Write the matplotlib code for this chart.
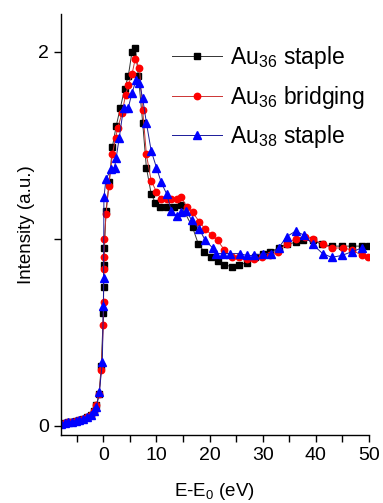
import matplotlib
matplotlib.use("Agg")
import matplotlib.pyplot as plt
from matplotlib.ticker import MultipleLocator, FixedLocator

plt.rcParams['font.family'] = ['Liberation Sans', 'DejaVu Sans']
plt.rcParams['mathtext.default'] = 'regular'

pre_x = [-8.0, -7.3, -6.6, -5.9, -5.2, -4.5, -3.8, -3.1, -2.4, -1.8, -1.3, -0.8, -0.4]
pre_y = [0.01, 0.015, 0.02, 0.02, 0.025, 0.03, 0.035, 0.045, 0.06, 0.08, 0.11, 0.17, 0.32]

au36_staple_x = pre_x + [0.0, 0.05, 0.1, 0.2, 0.5, 1.1, 1.7, 2.4, 3.2, 4.0, 4.7, 5.4, 6.0, 6.6, 7.4,
                          8.1, 9.0, 9.8, 10.7, 12.0, 13.3, 14.6, 16.8, 17.9, 19.0, 20.3, 21.5, 22.8,
                          24.2, 25.5, 27.0, 28.5, 30.0, 31.4, 33.0, 34.6, 36.2, 37.6, 39.4, 41.2,
                          43.0, 45.0, 46.8, 48.7, 50.0]
au36_staple_y = pre_y + [0.60, 0.74, 0.86, 0.95, 1.15, 1.30, 1.49, 1.60, 1.70, 1.80, 1.87, 2.00, 2.02,
                          1.87, 1.62, 1.38, 1.24, 1.19, 1.17, 1.17, 1.17, 1.18, 1.06, 0.97, 0.93, 0.90,
                          0.88, 0.86, 0.85, 0.86, 0.87, 0.90, 0.92, 0.93, 0.95, 0.97, 0.98, 0.99,
                          0.99, 0.97, 0.96, 0.96, 0.96, 0.96, 0.96]

au36_bridging_x = pre_x + [0.0, 0.03, 0.06, 0.1, 0.2, 0.5, 1.0, 1.7, 2.3, 2.7, 3.5, 4.2, 4.7, 5.4, 6.0,
                            6.8, 7.4, 8.1, 9.0, 10.0, 10.9, 11.9, 12.8, 13.8, 14.7, 15.7, 16.8,
                            18.1, 19.2, 20.4, 21.5, 22.8, 24.2, 25.5, 27.0, 28.4, 29.8, 31.3, 32.8,
                            34.5, 36.2, 37.9, 39.4, 41.3, 43.0, 45.1, 46.8, 48.7, 49.8]
au36_bridging_y = pre_y[:-1] + [0.30] + [0.54, 0.66, 0.84, 0.90, 1.00, 1.13, 1.28, 1.45, 1.54, 1.59,
                                          1.67, 1.77, 1.82, 1.88, 1.96, 1.91, 1.69, 1.45, 1.31, 1.25,
                                          1.21, 1.21, 1.21, 1.21, 1.22, 1.17, 1.14, 1.09, 1.05, 1.02,
                                          0.99, 0.94, 0.90, 0.90, 0.89, 0.89, 0.90, 0.91, 0.93, 0.97,
                                          1.00, 1.01, 1.00, 0.97, 0.95, 0.95, 0.94, 0.91, 0.90]

au38_staple_x = [-8.0, -7.3, -6.6, -5.9, -5.2, -4.5, -3.8, -3.1, -2.4, -1.8, -1.3, -0.75, -0.2,
                 0.0, 0.05, 0.1, 0.5, 1.5, 2.1, 2.4, 3.0, 3.8, 4.7, 5.4, 6.2, 6.8, 7.4, 8.1,
                 9.0, 10.0, 10.9, 11.9, 12.8, 13.8, 14.7, 15.6, 16.6, 18.1, 19.2, 20.6, 21.3,
                 22.6, 23.8, 25.7, 27.0, 28.3, 30.0, 31.5, 33.0, 34.5, 36.2, 37.7, 39.4, 41.3,
                 43.0, 44.9, 46.8, 48.7]
au38_staple_y = [0.01, 0.015, 0.02, 0.02, 0.025, 0.03, 0.035, 0.045, 0.06, 0.08, 0.10, 0.18, 0.34,
                 0.64, 0.79, 1.22, 1.32, 1.37, 1.38, 1.43, 1.54, 1.70, 1.70, 1.78, 1.85, 1.83,
                 1.75, 1.62, 1.47, 1.38, 1.30, 1.24, 1.15, 1.12, 1.14, 1.15, 1.10, 1.05, 0.99,
                 0.95, 0.92, 0.92, 0.92, 0.92, 0.91, 0.91, 0.92, 0.92, 0.95, 1.01, 1.04, 1.02,
                 0.97, 0.92, 0.90, 0.91, 0.93, 0.95]

labels = [r'Au$_{36}$ staple', r'Au$_{36}$ bridging', r'Au$_{38}$ staple']

fig = plt.figure(figsize=(3.83, 5.03), dpi=100)
ax = fig.add_axes([0.159, 0.135, 0.804, 0.837])

ms = 4.3
ax.plot(au36_staple_x, au36_staple_y, color='#333333', lw=0.7, marker='s', ms=ms,
        mfc='black', mec='black', label=labels[0])
ax.plot(au36_bridging_x, au36_bridging_y, color='#cc3333', lw=0.7, marker='o', ms=ms + 0.3,
        mfc='red', mec='red', label=labels[1])
ax.plot(au38_staple_x, au38_staple_y, color='#1a1a99', lw=0.7, marker='^', ms=ms + 0.8,
        mfc='blue', mec='blue', label=labels[2])

ax.set_xlim(-8, 50)
ax.set_ylim(-0.05, 2.2)
ax.xaxis.set_major_locator(MultipleLocator(10))
ax.xaxis.set_minor_locator(MultipleLocator(5))
ax.yaxis.set_major_locator(FixedLocator([0, 2]))
ax.yaxis.set_minor_locator(FixedLocator([1]))
ax.tick_params(which='major', direction='out', length=5, width=1, labelsize=14)
ax.tick_params(which='minor', direction='out', length=5, width=1)
for s in ['top', 'right']:
    ax.spines[s].set_visible(False)
for s in ['left', 'bottom']:
    ax.spines[s].set_linewidth(1)

ax.set_xlabel(r'E-E$_0$ (eV)', fontsize=13.5, labelpad=12)
ax.set_ylabel('Intensity (a.u.)', fontsize=13.5, labelpad=2)

leg = ax.legend(loc='upper left', bbox_to_anchor=(0.345, 0.94), frameon=False, fontsize=16.5,
                handlelength=2.2, handletextpad=0.35, labelspacing=0.55, borderaxespad=0.0,
                borderpad=0.2)

fig.savefig('out.png', dpi=100)
